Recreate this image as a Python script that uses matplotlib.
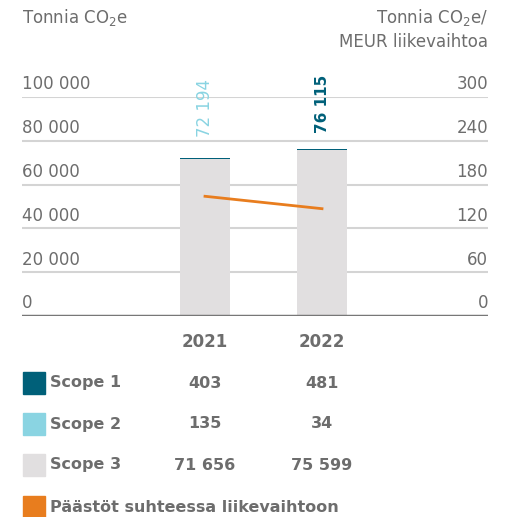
import matplotlib
matplotlib.use('Agg')
import matplotlib.pyplot as plt
import numpy as np

plt.rcParams['font.family'] = ['DejaVu Sans']
plt.rcParams['mathtext.fontset'] = 'dejavusans'

years = ['2021', '2022']
scope1 = [403, 481]
scope2 = [135, 34]
scope3 = [71656, 75599]
totals = [72194, 76115]
intensity = [164, 147]
left_ticks = [0, 20000, 40000, 60000, 80000, 100000]
left_labels = ['0', '20 000', '40 000', '60 000', '80 000', '100 000']
right_labels = ['0', '60', '120', '180', '240', '300']

c_s1 = '#006079'
c_s2 = '#8ad4e2'
c_s3 = '#e1dfe0'
c_line = '#e87d1e'
c_text = '#6d6d6d'

W, H = 511, 517
fig = plt.figure(figsize=(W / 100, H / 100), dpi=100)
ax = fig.add_axes([22 / W, 1 - 316 / H, 466 / W, 219 / H])
ax2 = ax.twinx()

x = np.arange(len(years))
bw = 50 / 117
s12 = np.array(scope3) + np.array(scope2)
ax.bar(x, scope3, width=bw, color=c_s3, zorder=2)
ax.bar(x, scope2, width=bw, bottom=scope3, color=c_s2, zorder=2)
ax.bar(x, scope1, width=bw, bottom=s12, color=c_s1, zorder=2)

ax.set_xlim((22 - 205) / 117, (488 - 205) / 117)
ax.set_ylim(0, 100000)
ax2.set_ylim(0, 300)
ax2.plot(x, intensity, color=c_line, lw=2, zorder=3)

for t in left_ticks[1:]:
    ax.axhline(t, color='#d4d4d4', lw=1.5, zorder=1)
ax.axhline(0, color='#777777', lw=2.5, zorder=4)

for a in (ax, ax2):
    a.set_xticks([])
    a.set_yticks([])
    for s in a.spines.values():
        s.set_visible(False)

for t, ll, rl in zip(left_ticks, left_labels, right_labels):
    ax.annotate(ll, (0, t), xycoords=('axes fraction', 'data'), xytext=(0, 5.5),
                textcoords='offset points', ha='left', va='baseline', fontsize=12, color=c_text)
    ax.annotate(rl, (1, t), xycoords=('axes fraction', 'data'), xytext=(0, 5.5),
                textcoords='offset points', ha='right', va='baseline', fontsize=12, color=c_text)

label_colors = [c_s2, c_s1]
label_weights = ['normal', 'bold']
label_sizes = [12, 11]
label_offsets = [15, 12]
for i, tot in enumerate(totals):
    ax.annotate(f'{tot:,}'.replace(',', ' '), (x[i], tot), xytext=(0, label_offsets[i]),
                textcoords='offset points', rotation=90, ha='center', va='bottom',
                fontsize=label_sizes[i], color=label_colors[i], fontweight=label_weights[i])
    ax.annotate(years[i], (x[i], 0), xytext=(0, -12), textcoords='offset points',
                ha='center', va='top', fontsize=12, fontweight='bold', color=c_text)

fig.text(22 / W, 1 - 18 / H, 'Tonnia CO$_2$e', ha='left', va='center', fontsize=12, color=c_text)
fig.text(488 / W, 1 - 18 / H, 'Tonnia CO$_2$e/', ha='right', va='center', fontsize=12, color=c_text)
fig.text(488 / W, 1 - 42 / H, 'MEUR liikevaihtoa', ha='right', va='center', fontsize=12, color=c_text)

rows = [('Scope 1', c_s1, scope1), ('Scope 2', c_s2, scope2), ('Scope 3', c_s3, scope3),
        ('Päästöt suhteessa liikevaihtoon', c_line, None)]
row_y = [383, 424, 465, 507]
for (name, col, vals), yp in zip(rows, row_y):
    fig.patches.append(plt.Rectangle((23 / W, 1 - (yp + 11) / H), 22 / W, 22 / H,
                                     transform=fig.transFigure, color=col))
    fig.text(50 / W, 1 - yp / H, name, ha='left', va='center', fontsize=11.5,
             fontweight='bold', color=c_text)
    if vals is not None:
        for xp, v in zip([205, 322], vals):
            fig.text(xp / W, 1 - yp / H, f'{v:,}'.replace(',', ' '), ha='center', va='center',
                     fontsize=11.5, fontweight='bold', color=c_text)

fig.savefig('out.png', dpi=100)
